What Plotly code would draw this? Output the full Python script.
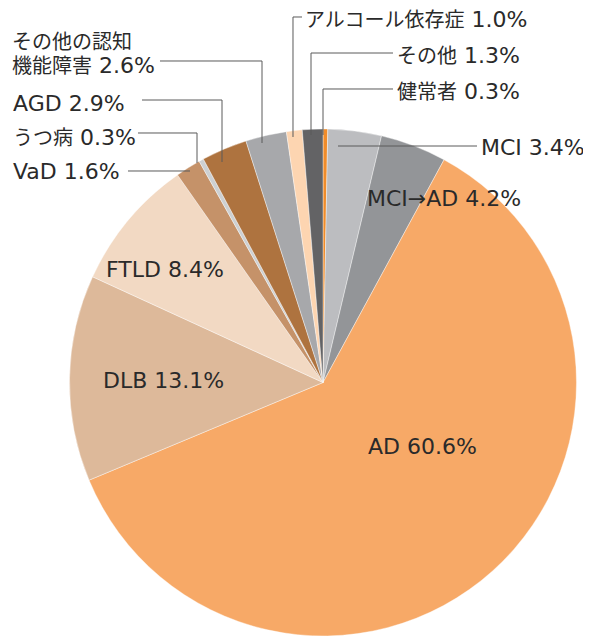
import re
import plotly.graph_objects as go

# page body has an 8px margin, so the figure is drawn 8px in from the top-left
OFF = 8
W, H = 591 - OFF, 636 - OFF

labels = ["健常者", "MCI", "MCI→AD", "AD", "DLB", "FTLD", "VaD", "うつ病", "AGD",
          "その他の認知機能障害", "アルコール依存症", "その他"]
values = [0.3, 3.4, 4.2, 60.6, 13.1, 8.4, 1.6, 0.3, 2.9, 2.6, 1.0, 1.3]
colors = ["#F08C2A", "#BCBDC0", "#939598", "#F7A967", "#DDB99A", "#F2D9C3",
          "#C59269", "#CDD0D2", "#AE733F", "#A7A8AB", "#FDD5B1", "#636365"]

FONT = "DejaVu Sans, Noto Sans CJK JP, sans-serif"
TXT = "#2a2a2a"
LINE = "#5a5a5a"
LAT_SIZE = 22
CJK_SIZE = 20


def px(x):
    return (x - OFF) / W


def py(y):
    return 1 - (y - OFF) / H


def fmt(t):
    return re.sub(r"([\u3000-\u9fff]+)",
                  lambda m: f'<span style="font-size:{CJK_SIZE}px">{m.group(1)}</span>', t)


fig = go.Figure(go.Pie(
    labels=labels, values=values, sort=False, direction="clockwise", rotation=0,
    marker=dict(colors=colors, line=dict(color="white", width=0.4)),
    textinfo="none", hoverinfo="label+value", showlegend=False,
    domain=dict(x=[px(69), px(577)], y=[0, py(129)]),
))

# label text: (text, x_left, y_center)
lab = [
    ("その他の認知", 13, 42),
    ("機能障害 2.6%", 13, 66),
    ("AGD 2.9%", 14, 103),
    ("うつ病 0.3%", 14, 137),
    ("VaD 1.6%", 14, 172),
    ("アルコール依存症 1.0%", 306, 20),
    ("その他 1.3%", 398, 55),
    ("健常者 0.3%", 398, 92),
    ("MCI 3.4%", 482, 148),
    ("MCI→AD 4.2%", 368, 198),
    ("AD 60.6%", 369, 446),
    ("FTLD 8.4%", 107, 269),
    ("DLB 13.1%", 104, 380),
]
PAD = 3
for t, x, y in lab:
    fig.add_annotation(text=fmt(t), x=px(x - PAD), y=py(y), xref="paper", yref="paper",
                       xanchor="left", yanchor="middle", showarrow=False,
                       font=dict(family=FONT, size=LAT_SIZE, color=TXT))

# leader lines as polylines in pixel space
leaders = [
    [(160, 61), (262, 61), (262, 143)],
    [(142, 100), (222, 100), (222, 162)],
    [(138, 133), (197, 133), (197, 163)],
    [(128, 171), (190, 171)],
    [(302, 17), (293, 17), (293, 137)],
    [(393, 53), (311, 53), (311, 135)],
    [(393, 89), (323, 89), (323, 135)],
    [(477, 146), (338, 146)],
]
for pts in leaders:
    path = "M " + " L ".join(f"{px(x):.5f},{py(y):.5f}" for x, y in pts)
    fig.add_shape(type="path", path=path, xref="paper", yref="paper",
                  line=dict(color=LINE, width=1))

fig.update_layout(width=W, height=H, margin=dict(l=0, r=0, t=0, b=0),
                  paper_bgcolor="white", plot_bgcolor="white")
fig.write_html("out.html")
